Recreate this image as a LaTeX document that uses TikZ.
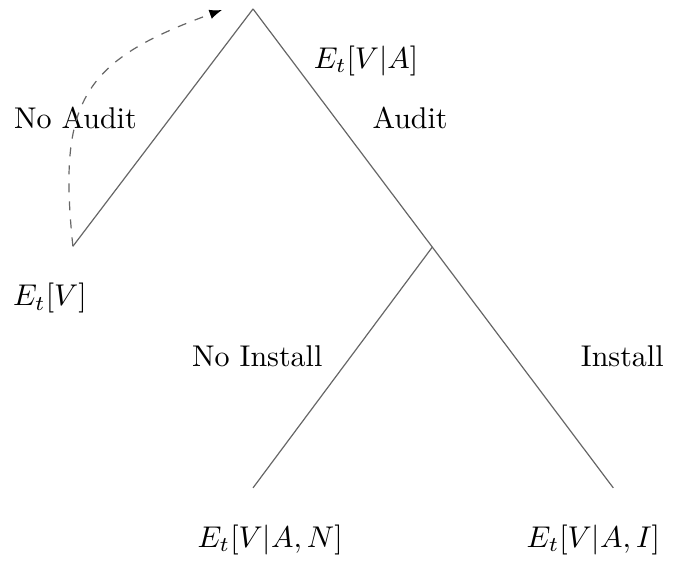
\documentclass[tikz,border=0pt]{standalone}
\usetikzlibrary{positioning, arrows, arrows.meta}

\begin{document}
\begin{tikzpicture}[line width=.4pt
  ]
% Node and label styles
\tikzstyle{pt} = [inner sep=0pt, outer sep=0pt, minimum size=0pt]
\tikzstyle{lbl} = [text=black, inner sep=0pt, outer sep=0pt]
\tikzstyle{val} = [text=black, inner sep=0pt, outer sep=0pt]
\tikzstyle{branch} = [draw=black!60]
\useasboundingbox (0,0) rectangle (8.036,-6.584);
% Decision points
\node[pt] (root) at (2.964,-0.105) {};
\node[pt, below left=2.78cm and 2.11cm of root] (noaud) {};
\node[pt, below right=2.79cm and 2.1cm of root] (aud) {};
\node[pt, below left=2.82cm and 2.1cm of aud] (noinst) {};
\node[pt, below right=2.82cm and 2.12cm of aud] (inst) {};

% Branches
\draw[branch] (root) -- node[lbl, xshift=-1.025cm, yshift=.111cm] (lnoaud) {No Audit} (noaud);
\draw[branch] (root) -- node[lbl, xshift=.79cm, yshift=.117cm] (laud) {Audit} (aud);
\draw[branch] (aud) -- node[lbl, xshift=-1cm, yshift=.135cm] (lnoinst) {No Install} (noinst);
\draw[branch] (aud) -- node[lbl, xshift=1.166cm, yshift=.135cm] (linst) {Install} (inst);

% Values
\node[val] (vaud) at ([xshift=1.324cm,yshift=-.609cm]root) {$E_t[V|A]$};
\node[val] (vnoaud) at ([xshift=-.27cm,yshift=-.609cm]noaud) {$E_t[V]$};
\node[val] (vnoinst) at ([xshift=.2cm,yshift=-.609cm]noinst) {$E_t[V|A,N]$};
\node[val] (vinst) at ([xshift=-.234cm,yshift=-.609cm]inst) {$E_t[V|A,I]$};

% Dashed arrow back to the root
\coordinate (back) at ([xshift=-.363cm,yshift=-.012cm]root);
\draw[branch, dashed, -{Latex[length=4.2pt,width=3.2pt,black]}] (noaud) to[out=96, in=200, looseness=1.35] (back);
%---------------------
\end{tikzpicture}
\end{document}
